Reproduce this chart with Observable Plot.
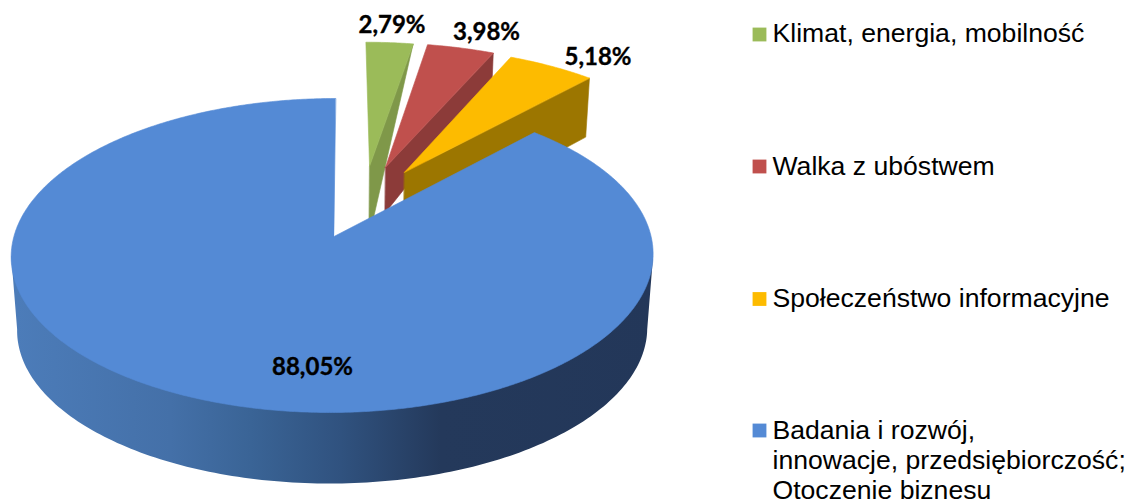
<!DOCTYPE html>
<html>
<head>
<meta charset="utf-8">
<script src="https://cdn.jsdelivr.net/npm/d3@7"></script>
<script src="https://cdn.jsdelivr.net/npm/@observablehq/plot@0.6"></script>
<style>
html,body{margin:0;padding:0;background:#fff;overflow:hidden}
svg{display:block}
</style>
</head>
<body>
<div id="chart"></div>
<script>
// Data
const categories = ["Klimat, energia, mobilność", "Walka z ubóstwem", "Społeczeństwo informacyjne", "Badania i rozwój,\ninnowacje, przedsiębiorczość;\nOtoczenie biznesu"];
const values = [2.79, 3.98, 5.18, 88.05];
const valueLabels = ["2,79%", "3,98%", "5,18%", "88,05%"];

// Styles
const topColors = ["#9BBB59", "#C0504D", "#FDBB00", "#548AD5"];
const faceColors = ["#7F9849", "#8C3B39", "#9C7600"];
const sideStops = [16, 170, 250, 340, 440, 660];
const sideShades = ["#4C7CB9", "#4470A8", "#3A6496", "#30527F", "#24395B", "#233759"];

// Layout of the tilted pie
const ax = 333.5, ay = 236, R = 318.6, S = 154.7, k = 0.121;
const burstU = [0.118, 0.171, 0.233, 0];
const burstV = [-0.481, -0.474, -0.4375, 0];
const outerDepth = [0, 26, 59];
const innerDepth = [72, 46, 63];
const labelX = [391.5, 486, 597.5, 312];
const labelY = [24.5, 32, 57, 367];
const legendY = [34, 166, 298.5, 430];
const legendTextY = [20.2, 153.2, 285.2, 416.8];

const project = (u, v) => {
  const w = 1 - k * v;
  return [ax + R * u / w, ay + S * v / w];
};
const sink = (p, h) => [p[0] - 0.00025 * (p[0] - ax) * h, p[1] + h];
const depthAt = (v) => v >= 0 ? 74 - 3 * v : 74 + 12.8 * v;

const polys = [];
const wall = [];
let id = 0;
const addPoly = (pts, color) => {
  const z = id++;
  pts.forEach(p => polys.push({z, x: p[0], y: p[1], color}));
};
const rad = d => d * Math.PI / 180;

let cum = 0;
const spans = values.map(val => {
  const a0 = cum;
  cum += val / d3.sum(values) * 360;
  return [a0, cum];
});

spans.forEach(([a0, a1], i) => {
  const rim = (deg) => {
    const v = burstV[i] - Math.cos(rad(deg));
    const p = project(burstU[i] + Math.sin(rad(deg)), v);
    return i === 3 ? [p[0] - 1.5 - 3 * v, p[1]] : p;
  };
  const apex = project(burstU[i], burstV[i]);
  if (i < 3) {
    const outer = rim(a1);
    addPoly([apex, outer, sink(outer, outerDepth[i]), sink(apex, innerDepth[i])], faceColors[i]);
  } else {
    // the wall's outline: down from the rim's right extreme, along the lower rim, up to the left extreme
    const angles = d3.range(97, 263.5, 1);
    const lower = angles.map(t => sink(rim(t), depthAt(-Math.cos(rad(t)))));
    [rim(97), ...lower, rim(263)].forEach(p => wall.push({x: p[0], y: p[1]}));
  }
  const n = Math.max(2, Math.ceil((a1 - a0) * 2));
  const arc = d3.range(n + 1).map(j => rim(a0 + (a1 - a0) * j / n));
  addPoly([apex, ...arc], topColors[i]);
});

const labels = values.map((val, i) => ({t: valueLabels[i], x: labelX[i], y: labelY[i]}));
const legend = categories.map((c, i) => ({c, color: topColors[i], sy: legendY[i], ty: legendTextY[i]}));

// Horizontal shading for the pie's wall
const wallGradient = () => {
  const defs = d3.create("svg:defs");
  const g = defs.append("linearGradient").attr("id", "wallShade").attr("gradientUnits", "userSpaceOnUse")
    .attr("x1", sideStops[0]).attr("x2", sideStops[sideStops.length - 1]).attr("y1", 0).attr("y2", 0);
  const span = sideStops[sideStops.length - 1] - sideStops[0];
  sideStops.forEach((s, i) => g.append("stop").attr("offset", (s - sideStops[0]) / span).attr("stop-color", sideShades[i]));
  return defs.node();
};

const plot = Plot.plot({
  width: 1128,
  height: 500,
  margin: 0,
  x: {domain: [0, 1128], range: [0, 1128], axis: null},
  y: {domain: [0, 500], range: [0, 500], axis: null},
  style: {background: "#fff"},
  marks: [
    wallGradient,
    Plot.line(wall, {x: "x", y: "y", fill: "url(#wallShade)", stroke: "none", curve: "linear-closed"}),
    Plot.line(polys, {x: "x", y: "y", z: "z", fill: "color", stroke: "color", strokeWidth: 0.6, curve: "linear-closed"}),
    Plot.text(labels, {x: "x", y: "y", text: "t", fontFamily: "Lato", fontWeight: 700, fontSize: 24, fill: "#000", stroke: "#000", strokeWidth: 0.35}),
    Plot.dot(legend, {x: () => 759, y: "sy", fill: "color", stroke: null, symbol: "square", r: 7.8}),
    Plot.text(legend, {x: () => 772, y: "ty", text: "c", textAnchor: "start", lineAnchor: "top", lineHeight: 1.14, fontFamily: "Liberation Sans", fontSize: 26.6, fill: "#000"})
  ]
});
document.getElementById("chart").appendChild(plot);
</script>
</body>
</html>
